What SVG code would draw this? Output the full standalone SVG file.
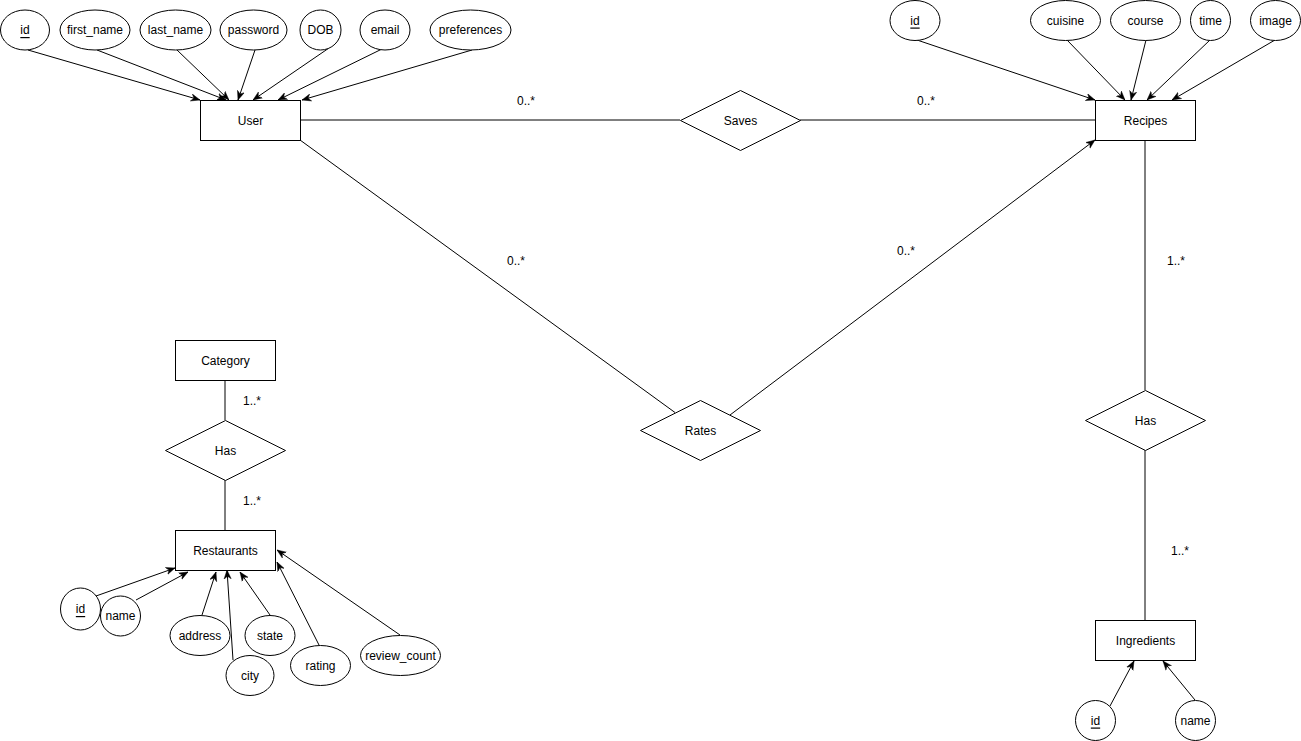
<svg xmlns="http://www.w3.org/2000/svg" width="1301" height="741" viewBox="0 0 1301 741">
<style>
.s{fill:#fff;stroke:#000;stroke-width:1}
.t{font-family:"Liberation Sans",Arial,sans-serif;font-size:12px;fill:#000;text-anchor:middle;dominant-baseline:central}
.u{text-decoration:underline}
.c{fill:none;stroke:#000;stroke-width:1}
.l{font-family:"Liberation Sans",Arial,sans-serif;font-size:12px;fill:#000;text-anchor:middle;dominant-baseline:central}
</style>
<defs>
<marker id="arr" viewBox="0 0 10 10" refX="10" refY="5" markerWidth="9" markerHeight="9" orient="auto" markerUnits="userSpaceOnUse">
<path d="M0,1 L10,5 L0,9 L3,5 z" fill="#000" stroke="#000" stroke-width="0.5"/>
</marker>
</defs>
<rect width="1301" height="741" fill="#fff"/>
<g id="connectors">
<line class="c" x1="28" y1="50" x2="200" y2="100" marker-end="url(#arr)"/>
<line class="c" x1="97" y1="50" x2="226" y2="100" marker-end="url(#arr)"/>
<line class="c" x1="177" y1="50" x2="229" y2="100" marker-end="url(#arr)"/>
<line class="c" x1="255" y1="50" x2="238" y2="100" marker-end="url(#arr)"/>
<line class="c" x1="329" y1="48" x2="253" y2="100" marker-end="url(#arr)"/>
<line class="c" x1="384" y1="48" x2="278" y2="100" marker-end="url(#arr)"/>
<line class="c" x1="472" y1="50" x2="302" y2="100" marker-end="url(#arr)"/>
<line class="c" x1="917" y1="40" x2="1095" y2="100" marker-end="url(#arr)"/>
<line class="c" x1="1067" y1="40" x2="1125" y2="100" marker-end="url(#arr)"/>
<line class="c" x1="1146" y1="40" x2="1131" y2="100" marker-end="url(#arr)"/>
<line class="c" x1="1210" y1="40" x2="1147" y2="100" marker-end="url(#arr)"/>
<line class="c" x1="1275" y1="40" x2="1172" y2="100" marker-end="url(#arr)"/>
<line class="c" x1="300" y1="120" x2="680" y2="120"/>
<line class="c" x1="800" y1="120" x2="1095" y2="120"/>
<line class="c" x1="300" y1="140" x2="675" y2="412.5"/>
<line class="c" x1="730" y1="415" x2="1095" y2="140" marker-end="url(#arr)"/>
<line class="c" x1="1145" y1="140" x2="1145" y2="390"/>
<line class="c" x1="1145" y1="450" x2="1145" y2="620"/>
<line class="c" x1="1110" y1="706" x2="1134" y2="661" marker-end="url(#arr)"/>
<line class="c" x1="1195" y1="700" x2="1163" y2="661" marker-end="url(#arr)"/>
<line class="c" x1="225" y1="380" x2="225" y2="420"/>
<line class="c" x1="225" y1="480" x2="225" y2="530"/>
<line class="c" x1="96" y1="596" x2="175" y2="568" marker-end="url(#arr)"/>
<line class="c" x1="136" y1="600" x2="188" y2="572" marker-end="url(#arr)"/>
<line class="c" x1="202" y1="615" x2="216" y2="572" marker-end="url(#arr)"/>
<line class="c" x1="233" y1="660" x2="227" y2="570" marker-end="url(#arr)"/>
<line class="c" x1="270" y1="615" x2="240" y2="572" marker-end="url(#arr)"/>
<line class="c" x1="319" y1="645" x2="277" y2="562" marker-end="url(#arr)"/>
<line class="c" x1="400" y1="635" x2="277" y2="550" marker-end="url(#arr)"/>
<text class="l" x="526" y="101">0..*</text>
<text class="l" x="926" y="101">0..*</text>
<text class="l" x="516" y="261">0..*</text>
<text class="l" x="906" y="251">0..*</text>
<text class="l" x="1176" y="261">1..*</text>
<text class="l" x="1180" y="551">1..*</text>
<text class="l" x="252" y="401">1..*</text>
<text class="l" x="252" y="501">1..*</text>
</g>
<g id="user"><rect class="s" x="200.5" y="100.5" width="100" height="40"/><text class="t" x="250.5" y="120.5">User</text></g>
<g id="user_id"><ellipse class="s" cx="25" cy="30" rx="24.5" ry="20"/><text class="t u" x="25" y="30">id</text></g>
<g id="user_first_name"><ellipse class="s" cx="95" cy="30" rx="35" ry="20"/><text class="t" x="95" y="30">first_name</text></g>
<g id="user_last_name"><ellipse class="s" cx="175.5" cy="30" rx="35.5" ry="20"/><text class="t" x="175.5" y="30">last_name</text></g>
<g id="user_password"><ellipse class="s" cx="253.5" cy="30" rx="33.5" ry="20"/><text class="t" x="253.5" y="30">password</text></g>
<g id="user_dob"><ellipse class="s" cx="320.5" cy="30" rx="20.5" ry="20"/><text class="t" x="320.5" y="30">DOB</text></g>
<g id="user_email"><ellipse class="s" cx="385" cy="30" rx="25" ry="20"/><text class="t" x="385" y="30">email</text></g>
<g id="user_preferences"><ellipse class="s" cx="470.5" cy="30" rx="40.5" ry="20"/><text class="t" x="470.5" y="30">preferences</text></g>
<g id="recipes"><rect class="s" x="1095.5" y="100.5" width="100" height="40"/><text class="t" x="1145.5" y="120.5">Recipes</text></g>
<g id="recipes_id"><ellipse class="s" cx="915" cy="20.5" rx="25" ry="20"/><text class="t u" x="915" y="20.5">id</text></g>
<g id="recipes_cuisine"><ellipse class="s" cx="1065.5" cy="20.5" rx="35" ry="20"/><text class="t" x="1065.5" y="20.5">cuisine</text></g>
<g id="recipes_course"><ellipse class="s" cx="1145.5" cy="20.5" rx="35" ry="20"/><text class="t" x="1145.5" y="20.5">course</text></g>
<g id="recipes_time"><ellipse class="s" cx="1210.5" cy="20.5" rx="20" ry="20"/><text class="t" x="1210.5" y="20.5">time</text></g>
<g id="recipes_image"><ellipse class="s" cx="1275.5" cy="20.5" rx="25" ry="20"/><text class="t" x="1275.5" y="20.5">image</text></g>
<g id="saves"><polygon class="s" points="740.5,90.5 800.5,120.5 740.5,150.5 680.5,120.5"/><text class="t" x="740.5" y="120.5">Saves</text></g>
<g id="rates"><polygon class="s" points="700.5,400.5 760.5,430.5 700.5,460.5 640.5,430.5"/><text class="t" x="700.5" y="430.5">Rates</text></g>
<g id="has_recipes"><polygon class="s" points="1145.5,390.5 1205.5,420.5 1145.5,450.5 1085.5,420.5"/><text class="t" x="1145.5" y="420.5">Has</text></g>
<g id="ingredients"><rect class="s" x="1095.5" y="620.5" width="100" height="40"/><text class="t" x="1145.5" y="640.5">Ingredients</text></g>
<g id="ingredients_id"><ellipse class="s" cx="1095.5" cy="720.5" rx="20" ry="20"/><text class="t u" x="1095.5" y="720.5">id</text></g>
<g id="ingredients_name"><ellipse class="s" cx="1195.5" cy="720.5" rx="20" ry="20"/><text class="t" x="1195.5" y="720.5">name</text></g>
<g id="category"><rect class="s" x="175.5" y="340.5" width="100" height="40"/><text class="t" x="225.5" y="360.5">Category</text></g>
<g id="has_category"><polygon class="s" points="225.5,420.5 285.5,450.5 225.5,480.5 165.5,450.5"/><text class="t" x="225.5" y="450.5">Has</text></g>
<g id="restaurants"><rect class="s" x="175.5" y="530.5" width="100" height="40"/><text class="t" x="225.5" y="550.5">Restaurants</text></g>
<g id="rest_id"><ellipse class="s" cx="80.5" cy="609" rx="20" ry="21"/><text class="t u" x="80.5" y="609">id</text></g>
<g id="rest_name"><ellipse class="s" cx="120.5" cy="616" rx="20" ry="20"/><text class="t" x="120.5" y="616">name</text></g>
<g id="rest_address"><ellipse class="s" cx="200" cy="635.5" rx="30" ry="20"/><text class="t" x="200" y="635.5">address</text></g>
<g id="rest_city"><ellipse class="s" cx="250" cy="675.5" rx="24" ry="20"/><text class="t" x="250" y="675.5">city</text></g>
<g id="rest_state"><ellipse class="s" cx="270" cy="635.5" rx="25" ry="20"/><text class="t" x="270" y="635.5">state</text></g>
<g id="rest_rating"><ellipse class="s" cx="320.5" cy="665.5" rx="30" ry="20"/><text class="t" x="320.5" y="665.5">rating</text></g>
<g id="rest_review_count"><ellipse class="s" cx="400.5" cy="655.5" rx="40" ry="20"/><text class="t" x="400.5" y="655.5">review_count</text></g>
</svg>
